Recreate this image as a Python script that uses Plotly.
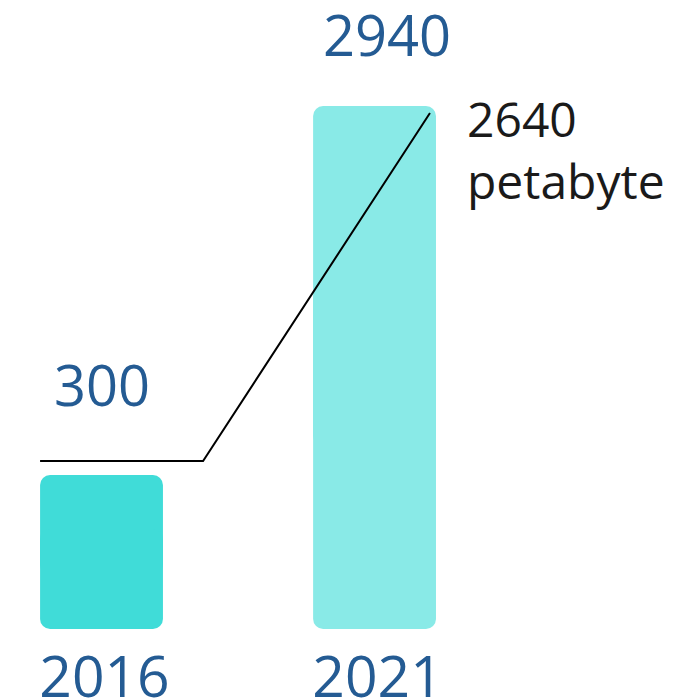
import math
import plotly.graph_objects as go

# data
years = ["2016", "2021"]
volumes = [300, 2940]              # petabyte
bar_colors = ["#40DCD8", "#89EAE7"]
unit = "petabyte"

# leader line from the 2016 level up to the 2021 bar
connector_x = [-0.225, 0.372, 1.203]
connector_y = [327, 327, 2815]

diff = volumes[1] - volumes[0]
x_pos = list(range(len(years)))

BLUE = "#245B93"
FONT = "Open Sans"
Y_FLOOR = 10 ** 2.0635            # bottom of the log axis, where the bars start
Y_TOP = 10 ** 3.7315

fig = go.Figure()

# each bar is drawn as two overlapping pieces so both ends get rounded corners
for i, v in enumerate(volumes):
    lo = Y_FLOOR * (v / Y_FLOOR) ** 0.35
    hi = Y_FLOOR * (v / Y_FLOOR) ** 0.65
    # upper piece: rounded top
    fig.add_trace(go.Bar(
        x=[x_pos[i]], y=[v - lo], base=[lo],
        width=0.45, marker=dict(color=bar_colors[i], line=dict(width=0), cornerradius=10),
        hoverinfo="skip",
    ))
    # lower piece: rounded bottom
    fig.add_trace(go.Bar(
        x=[x_pos[i]], y=[Y_FLOOR - hi], base=[hi],
        width=0.45, marker=dict(color=bar_colors[i], line=dict(width=0), cornerradius=10),
        hoverinfo="skip",
    ))

fig.add_trace(go.Scatter(
    x=connector_x,
    y=connector_y,
    mode="lines",
    line=dict(color="black", width=2),
    hoverinfo="skip",
))

# value labels above the bars
label_shift = [51, 32]
label_xshift = [0, 12]
for i, v in enumerate(volumes):
    fig.add_annotation(
        x=x_pos[i], y=math.log10(v),
        text=str(v), showarrow=False,
        yanchor="bottom", yshift=label_shift[i], xshift=label_xshift[i],
        font=dict(family=FONT, size=56, color=BLUE),
    )

# difference label
fig.add_annotation(
    x=x_pos[1], y=math.log10(volumes[1]),
    text=f"{diff}<br>{unit}", showarrow=False,
    xanchor="left", yanchor="top", align="left",
    xshift=90, yshift=22,
    font=dict(family=FONT, size=48, color="#1a1a1a"),
)

fig.update_layout(
    width=689, height=699,
    margin=dict(l=0, r=0, t=0, b=78),
    plot_bgcolor="white", paper_bgcolor="white",
    showlegend=False,
    barmode="overlay",
    font=dict(family=FONT),
)

fig.update_xaxes(
    range=[-0.3425, 2.181],
    tickvals=x_pos, ticktext=years,
    tickfont=dict(family=FONT, size=57, color=BLUE),
    showgrid=False, zeroline=False, showline=False,
    ticks="", ticklabelstandoff=10, ticklabelshift=3, automargin=False,
)
fig.update_yaxes(
    type="log", range=[math.log10(Y_FLOOR), math.log10(Y_TOP)],
    visible=False, showgrid=False, automargin=False,
)

fig.write_html("out.html")
